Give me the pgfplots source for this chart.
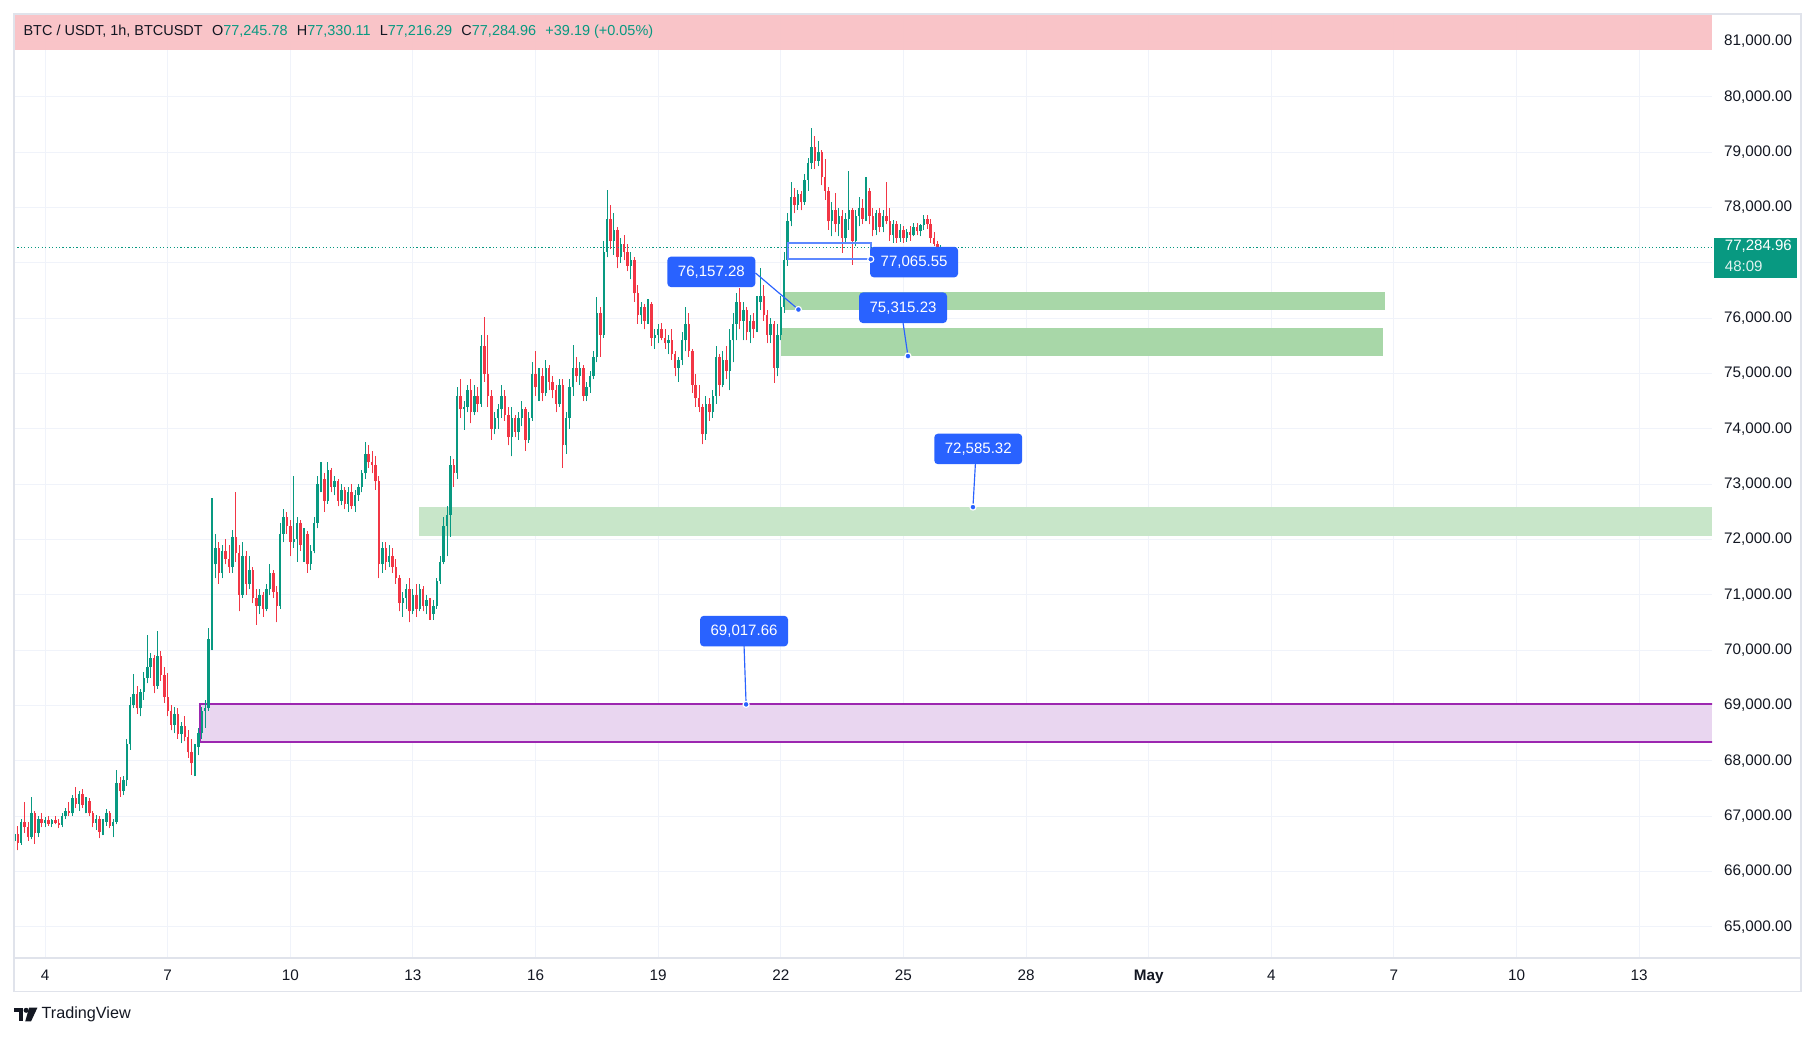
\documentclass[border=0pt]{standalone}
\usepackage{pgfplots}
\pgfplotsset{compat=1.18}
\usepackage{pgfplotstable}
\usepackage{fontspec}
\setmainfont{Liberation Sans}
\definecolor{upc}{RGB}{8,153,129}
\definecolor{dnc}{RGB}{242,54,69}
\definecolor{gridc}{RGB}{240,243,250}
\definecolor{framec}{RGB}{224,227,235}
\definecolor{tvblue}{RGB}{41,98,255}
\definecolor{zoneA}{RGB}{168,215,168}
\definecolor{zoneB}{RGB}{200,230,201}
\definecolor{purp}{RGB}{156,39,176}
\definecolor{purpfill}{RGB}{233,214,240}
\definecolor{headc}{RGB}{249,192,196}
\definecolor{textc}{RGB}{19,23,34}
\pgfplotstableread{
k o h l c
0 66.55 66.75 66.45 66.68
1 66.68 66.82 66.38 66.52
2 66.52 66.95 66.48 66.90
3 66.90 67.26 66.70 66.80
4 66.80 66.90 66.55 66.62
5 66.62 67.34 66.58 67.05
6 67.05 67.10 66.50 66.70
7 66.70 67.00 66.62 66.95
8 66.95 67.05 66.80 66.88
9 66.88 66.98 66.80 66.92
10 66.92 67.00 66.82 66.86
11 66.86 66.95 66.80 66.93
12 66.93 67.00 66.85 66.88
13 66.88 66.95 66.78 66.84
14 66.84 67.05 66.80 67.00
15 67.00 67.15 66.95 67.10
16 67.10 67.25 67.00 67.05
17 67.05 67.38 67.00 67.32
18 67.32 67.53 67.15 67.22
19 67.22 67.45 67.10 67.40
20 67.40 67.48 67.15 67.20
21 67.20 67.35 67.05 67.28
22 67.28 67.32 67.00 67.05
23 67.05 67.10 66.80 66.88
24 66.88 67.02 66.75 66.95
25 66.95 67.00 66.60 66.72
26 66.72 66.95 66.65 66.90
27 66.90 67.12 66.82 67.05
28 67.05 67.10 66.78 66.82
29 66.82 66.95 66.62 66.90
30 66.90 67.84 66.85 67.60
31 67.60 67.70 67.35 67.45
32 67.45 67.72 67.38 67.65
33 67.65 68.40 67.55 68.30
34 68.30 69.15 68.20 69.00
35 69.00 69.57 68.95 69.20
36 69.20 69.35 68.85 68.95
37 68.95 69.30 68.80 69.25
38 69.25 69.60 69.10 69.50
39 69.50 70.28 69.40 69.70
40 69.70 69.95 69.50 69.85
41 69.85 69.92 69.22 69.35
42 69.35 70.34 69.30 69.90
43 69.90 69.98 69.45 69.55
44 69.55 69.70 69.05 69.15
45 69.15 69.58 68.80 68.90
46 68.90 69.00 68.55 68.65
47 68.65 68.98 68.50 68.85
48 68.85 68.95 68.40 68.48
49 68.48 68.70 68.32 68.62
50 68.62 68.80 68.35 68.42
51 68.42 68.55 68.05 68.15
52 68.15 68.40 67.75 67.95
53 67.95 68.30 67.72 68.25
54 68.25 68.60 68.10 68.50
55 68.50 68.98 68.40 68.90
56 68.90 69.10 68.60 68.95
57 68.95 70.40 68.90 70.20
58 70.20 72.75 70.00 71.55
59 71.55 72.10 71.30 71.85
60 71.85 71.95 71.20 71.40
61 71.40 71.90 71.30 71.80
62 71.80 72.00 71.55 71.65
63 71.65 71.90 71.40 71.50
64 71.50 72.18 71.40 72.05
65 72.05 72.85 71.60 71.75
66 71.75 71.90 70.70 71.00
67 71.00 71.95 70.95 71.70
68 71.70 71.80 71.00 71.20
69 71.20 71.70 71.10 71.45
70 71.45 71.50 70.85 70.95
71 70.95 71.10 70.46 70.80
72 70.80 71.10 70.65 71.00
73 71.00 71.05 70.60 70.75
74 70.75 71.20 70.70 71.10
75 71.10 71.55 71.00 71.40
76 71.40 71.45 70.95 71.05
77 71.05 71.15 70.50 70.80
78 70.80 72.30 70.75 72.10
79 72.10 72.55 71.95 72.40
80 72.40 72.50 72.10 72.25
81 72.25 72.35 71.70 71.95
82 71.95 73.14 71.85 72.00
83 72.00 72.40 71.60 72.30
84 72.30 72.35 71.80 71.90
85 71.90 72.20 71.60 72.10
86 72.10 72.15 71.40 71.55
87 71.55 71.90 71.45 71.80
88 71.80 72.40 71.75 72.30
89 72.30 73.15 72.20 73.00
90 73.00 73.40 72.85 73.10
91 73.10 73.20 72.50 72.70
92 72.70 73.40 72.65 73.25
93 73.25 73.30 72.85 72.95
94 72.95 73.15 72.80 73.05
95 73.05 73.10 72.60 72.70
96 72.70 73.00 72.62 72.90
97 72.90 72.95 72.55 72.65
98 72.65 72.95 72.50 72.85
99 72.85 73.00 72.55 72.60
100 72.60 72.90 72.50 72.80
101 72.80 73.00 72.70 72.95
102 72.95 73.25 72.85 73.20
103 73.20 73.77 73.10 73.55
104 73.55 73.70 73.30 73.40
105 73.40 73.60 73.20 73.35
106 73.35 73.50 72.90 73.05
107 73.05 73.15 71.30 71.55
108 71.55 71.95 71.40 71.85
109 71.85 71.95 71.45 71.60
110 71.60 71.90 71.50 71.70
111 71.70 71.85 71.40 71.50
112 71.50 71.65 71.20 71.30
113 71.30 71.35 70.70 70.85
114 70.85 71.05 70.60 70.95
115 70.95 71.20 70.75 71.10
116 71.10 71.30 70.50 70.70
117 70.70 71.10 70.65 71.00
118 71.00 71.20 70.60 70.75
119 70.75 71.20 70.70 71.10
120 71.10 71.15 70.70 70.80
121 70.80 71.00 70.65 70.90
122 70.90 70.95 70.55 70.65
123 70.65 70.90 70.55 70.80
124 70.80 71.30 70.75 71.25
125 71.25 71.70 71.20 71.60
126 71.60 72.40 71.55 72.25
127 72.25 72.60 71.70 72.45
128 72.45 73.50 72.05 73.35
129 73.35 73.45 72.95 73.20
130 73.20 74.75 73.10 74.60
131 74.60 74.90 74.20 74.35
132 74.35 74.50 73.98 74.40
133 74.40 74.80 74.30 74.70
134 74.70 74.90 74.10 74.30
135 74.30 74.80 74.25 74.60
136 74.60 74.75 74.30 74.45
137 74.45 75.70 74.40 75.50
138 75.50 76.03 74.85 75.00
139 75.00 75.69 74.40 74.60
140 74.60 74.70 73.80 74.00
141 74.00 74.30 73.90 74.20
142 74.20 74.45 74.00 74.35
143 74.35 74.80 74.20 74.60
144 74.60 74.70 74.15 74.25
145 74.25 74.40 73.70 73.85
146 73.85 74.40 73.50 74.20
147 74.20 74.25 73.85 73.95
148 73.95 74.30 73.80 74.20
149 74.20 74.50 74.05 74.35
150 74.35 74.40 73.60 73.80
151 73.80 74.30 73.75 74.20
152 74.20 75.20 74.15 75.00
153 75.00 75.40 74.60 74.75
154 74.75 75.10 74.50 74.95
155 74.95 75.10 74.50 74.65
156 74.65 75.25 74.60 75.10
157 75.10 75.15 74.70 74.85
158 74.85 74.95 74.55 74.70
159 74.70 74.80 74.30 74.45
160 74.45 74.90 74.40 74.80
161 74.80 74.90 73.30 73.70
162 73.70 74.30 73.55 74.20
163 74.20 74.90 74.00 74.75
164 74.75 75.52 74.60 75.10
165 75.10 75.30 74.85 74.95
166 74.95 75.20 74.80 75.10
167 75.10 75.15 74.50 74.60
168 74.60 74.85 74.50 74.75
169 74.75 75.05 74.65 74.95
170 74.95 75.40 74.90 75.30
171 75.30 76.38 75.20 76.10
172 76.10 76.20 75.30 75.70
173 75.70 77.40 75.65 77.20
174 77.20 78.32 77.10 77.80
175 77.80 78.05 77.25 77.40
176 77.40 77.90 77.15 77.60
177 77.60 77.65 76.90 77.10
178 77.10 77.45 77.00 77.35
179 77.35 77.50 77.05 77.20
180 77.20 77.35 76.85 76.95
181 76.95 77.20 76.70 77.05
182 77.05 77.10 76.30 76.45
183 76.45 76.60 75.90 76.05
184 76.05 76.30 75.90 76.20
185 76.20 76.25 75.80 75.95
186 75.95 76.35 75.90 76.25
187 76.25 76.30 75.50 75.65
188 75.65 75.80 75.45 75.70
189 75.70 75.90 75.55 75.80
190 75.80 75.92 75.60 75.65
191 75.65 75.80 75.45 75.55
192 75.55 75.70 75.35 75.60
193 75.60 75.80 75.25 75.35
194 75.35 75.40 74.95 75.10
195 75.10 75.30 74.85 75.25
196 75.25 75.75 75.15 75.60
197 75.60 76.21 75.40 75.90
198 75.90 76.10 75.30 75.40
199 75.40 75.45 74.65 74.80
200 74.80 75.00 74.40 74.55
201 74.55 74.80 74.30 74.40
202 74.40 74.45 73.72 73.90
203 73.90 74.60 73.80 74.45
204 74.45 74.55 74.15 74.30
205 74.30 74.70 74.20 74.60
206 74.60 75.50 74.45 75.30
207 75.30 75.35 74.60 74.80
208 74.80 75.40 74.75 75.25
209 75.25 75.50 74.90 75.05
210 75.05 75.80 74.70 75.60
211 75.60 76.10 75.20 75.90
212 75.90 76.45 75.60 76.30
213 76.30 76.55 75.80 75.95
214 75.95 76.30 75.60 76.15
215 76.15 76.20 75.60 75.75
216 75.75 76.05 75.55 75.95
217 75.95 76.10 75.65 75.80
218 75.80 76.40 75.75 76.30
219 76.30 76.90 76.15 76.40
220 76.40 76.60 75.95 76.05
221 76.05 76.15 75.55 75.70
222 75.70 76.00 75.55 75.90
223 75.90 75.95 74.83 75.10
224 75.10 75.90 74.95 75.70
225 75.70 76.40 75.60 76.20
226 76.20 77.20 76.10 77.05
227 77.05 77.90 76.95 77.75
228 77.75 78.47 77.66 78.20
229 78.20 78.35 77.90 78.05
230 78.05 78.32 77.96 78.25
231 78.25 78.30 77.95 78.10
232 78.10 78.60 78.05 78.50
233 78.50 78.90 78.30 78.80
234 78.80 79.44 78.70 79.10
235 79.10 79.30 78.70 78.85
236 78.85 79.20 78.75 79.00
237 79.00 79.05 78.40 78.55
238 78.55 78.87 78.14 78.30
239 78.30 78.38 77.60 77.75
240 77.75 78.10 77.48 77.95
241 77.95 78.26 77.55 77.70
242 77.70 78.00 77.48 77.85
243 77.85 77.95 77.18 77.45
244 77.45 77.90 77.35 77.80
245 77.80 78.66 77.60 77.95
246 77.95 78.00 76.97 77.40
247 77.40 77.95 77.30 77.85
248 77.85 78.20 77.66 78.00
249 78.00 78.15 77.70 77.80
250 77.80 78.56 77.75 78.30
251 78.30 78.35 77.70 77.85
252 77.85 78.00 77.48 77.60
253 77.60 77.95 77.50 77.90
254 77.90 78.00 77.55 77.65
255 77.65 77.96 77.55 77.85
256 77.85 78.47 77.70 77.75
257 77.75 78.00 77.40 77.50
258 77.50 77.78 77.36 77.70
259 77.70 77.75 77.36 77.45
260 77.45 77.70 77.38 77.60
261 77.60 77.66 77.36 77.45
262 77.45 77.62 77.38 77.55
263 77.55 77.66 77.40 77.50
264 77.50 77.72 77.48 77.65
265 77.65 77.72 77.50 77.58
266 77.58 77.70 77.48 77.68
267 77.68 77.87 77.60 77.80
268 77.80 77.87 77.62 77.70
269 77.70 77.80 77.36 77.45
270 77.45 77.55 77.30 77.35
271 77.35 77.39 77.22 77.245
272 77.245 77.330 77.216 77.285
}\candles
\tikzset{pricebox/.style={fill=tvblue, text=white, rounded corners=1.6pt, minimum width=38pt, minimum height=13.2pt, inner sep=0pt, font=\fontsize{6.5}{7}\selectfont}}
\pgfplotsset{candle/.style={forget plot, only marks, mark=*, mark size=0pt, mark options={draw=none, fill=none}}}
\begin{document}
\begin{tikzpicture}
\path[use as bounding box] (0,0) rectangle (784pt,447.75pt);
\fill[white] (0,0) rectangle (784pt,447.75pt);
\begin{axis}[
  at={(6pt,33.75pt)}, anchor=south west,
  scale only axis, width=734pt, height=408pt,
  xmin=3.236, xmax=44.786, ymin=64.435, ymax=81.502,
  axis line style={draw=none},
  major tick length=0pt,
  grid=major,
  major grid style={draw=gridc, line width=0.45pt},
  xtick={4,7,10,13,16,19,22,25,28,31,34,37,40,43},
  xticklabels={4,7,10,13,16,19,22,25,28,\textbf{May},4,7,10,13},
  ytick={65,66,67,68,69,70,71,72,73,74,75,76,77,78,79,80,81},
  yticklabels={{65,000.00},{66,000.00},{67,000.00},{68,000.00},{69,000.00},{70,000.00},{71,000.00},{72,000.00},{73,000.00},{74,000.00},{75,000.00},{76,000.00},{},{78,000.00},{79,000.00},{80,000.00},{81,000.00}},
  yticklabel pos=right,
  ticklabel style={font=\fontsize{6.6}{8}\selectfont, text=textc, inner sep=0pt},
  yticklabel style={anchor=west, xshift=5pt},
  xticklabel style={anchor=base, yshift=-9.9pt},
]
% zones
\addplot[draw=none, fill=zoneB, forget plot] coordinates {(13.14,72.07) (44.786,72.07) (44.786,72.585) (13.14,72.585)} -- cycle;
\addplot[draw=none, fill=zoneA, forget plot] coordinates {(22.1,76.141) (36.78,76.141) (36.78,76.473) (22.1,76.473)} -- cycle;
\addplot[draw=none, fill=zoneA, forget plot] coordinates {(22.0,75.309) (36.72,75.309) (36.72,75.822) (22.0,75.822)} -- cycle;
\addplot[draw=none, fill=purpfill, forget plot] coordinates {(7.78,68.345) (44.786,68.345) (44.786,69.018) (7.78,69.018)} -- cycle;
\addplot[draw=purp, line width=0.85pt, forget plot] coordinates {(44.9,69.018) (7.78,69.018) (7.78,68.345) (44.9,68.345)};
% candles: wicks
\addplot[candle,
  restrict expr to domain={\thisrow{c}-\thisrow{o}}{0:100},
  error bars/.cd, y dir=plus, y explicit, error mark=none,
  error bar style={draw=upc, line width=0.45pt}]
  table[x expr={3.25+\thisrow{k}/12}, y=l, y error plus expr={\thisrow{h}-\thisrow{l}}] {\candles};
\addplot[candle,
  restrict expr to domain={\thisrow{c}-\thisrow{o}}{-100:-0.0001},
  error bars/.cd, y dir=plus, y explicit, error mark=none,
  error bar style={draw=dnc, line width=0.45pt}]
  table[x expr={3.25+\thisrow{k}/12}, y=l, y error plus expr={\thisrow{h}-\thisrow{l}}] {\candles};
% candles: bodies
\addplot[candle,
  restrict expr to domain={\thisrow{c}-\thisrow{o}}{0:100},
  error bars/.cd, y dir=plus, y explicit, error mark=none,
  error bar style={draw=upc, line width=1.05pt}]
  table[x expr={3.25+\thisrow{k}/12}, y=o, y error plus expr={\thisrow{c}-\thisrow{o}}] {\candles};
\addplot[candle,
  restrict expr to domain={\thisrow{c}-\thisrow{o}}{-100:-0.0001},
  error bars/.cd, y dir=plus, y explicit, error mark=none,
  error bar style={draw=dnc, line width=1.05pt}]
  table[x expr={3.25+\thisrow{k}/12}, y=c, y error plus expr={\thisrow{o}-\thisrow{c}}] {\candles};
% blue range rectangle
\addplot[draw=tvblue!75!white, line width=0.9pt, forget plot] coordinates {(22.17,77.066) (24.2,77.066) (24.2,77.36) (22.17,77.36)} -- cycle;
% current price line
\addplot[draw=upc, densely dotted, line width=0.5pt, forget plot] coordinates {(3.236,77.285) (44.786,77.285)};
% connectors
\addplot[draw=tvblue, line width=0.5pt, forget plot] coordinates {(21.38,76.817) (22.43,76.157)};
\addplot[draw=tvblue, line width=0.5pt, forget plot] coordinates {(24.99,75.917) (25.11,75.315)};
\addplot[draw=tvblue, line width=0.5pt, forget plot] coordinates {(26.76,73.37) (26.70,72.585)};
\addplot[draw=tvblue, line width=0.5pt, forget plot] coordinates {(21.10,70.08) (21.15,69.018)};
% boxes
\node[pricebox] at (axis cs:20.30,76.838) {76,157.28};
\node[pricebox] at (axis cs:25.26,77.015) {77,065.55};
\node[pricebox] at (axis cs:24.99,76.189) {75,315.23};
\node[pricebox] at (axis cs:26.83,73.637) {72,585.32};
\node[pricebox] at (axis cs:21.10,70.343) {69,017.66};
% dots
\addplot[only marks, mark=*, mark size=1.3pt, mark options={fill=tvblue, draw=white, line width=0.5pt}, forget plot]
  coordinates {(22.43,76.157) (24.2,77.066) (25.11,75.315) (26.70,72.585) (21.15,69.018)};
\end{axis}
% header band
\fill[headc, opacity=0.92] (6pt,426.25pt) rectangle (740pt,441.75pt);
% frame
\draw[framec, line width=0.7pt] (6pt,19.25pt) rectangle (778.5pt,441.75pt);
\draw[framec, line width=0.7pt] (6pt,33.75pt) -- (778.5pt,33.75pt);
% header text
\node[anchor=west, inner sep=0pt, font=\fontsize{6.25}{8}\selectfont, text=textc] at (10pt,434pt)
  {BTC / USDT, 1h, BTCUSDT\hspace{4pt}O\textcolor{upc}{77,245.78}\hspace{4pt}H\textcolor{upc}{77,330.11}\hspace{4pt}L\textcolor{upc}{77,216.29}\hspace{4pt}C\textcolor{upc}{77,284.96}\hspace{4pt}\textcolor{upc}{+39.19 (+0.05\%)}};
% current price box
\fill[upc] (740.8pt,327.8pt) rectangle (776.5pt,345pt);
\node[anchor=west, inner sep=0pt, text=white, font=\fontsize{6.5}{7}\selectfont] at (745.3pt,341.3pt) {77,284.96};
\node[anchor=west, inner sep=0pt, text=white!88!upc, font=\fontsize{6.5}{7}\selectfont] at (745.3pt,332.8pt) {48:09};
% TradingView logo
\fill[textc] (6pt,10.4pt) rectangle (10pt,12.3pt);
\fill[textc] (8.1pt,6.3pt) rectangle (10pt,12.3pt);
\fill[textc] (11.3pt,11.1pt) circle (1.1pt);
\fill[textc] (12.6pt,12.3pt) -- (16.2pt,12.3pt) -- (13.4pt,6.3pt) -- (10.9pt,6.3pt) -- cycle;
\node[anchor=west, inner sep=0pt, text=textc, font=\fontsize{7}{8}\selectfont] at (17.8pt,9.3pt) {TradingView};
\end{tikzpicture}
\end{document}
